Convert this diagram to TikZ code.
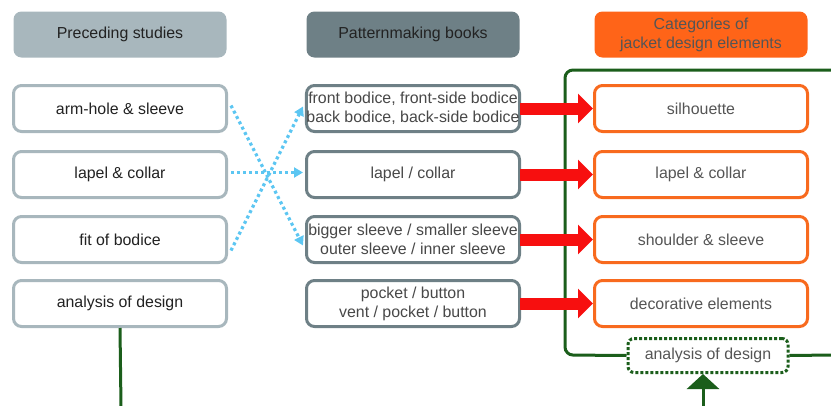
\documentclass[tikz,border=0pt]{standalone}
\usepackage{fontspec}
\setmainfont{Liberation Sans}
\usetikzlibrary{arrows.meta}
\definecolor{hdrA}{HTML}{A8B7BD}
\definecolor{hdrB}{HTML}{6E8086}
\definecolor{hdrC}{HTML}{FF6418}
\definecolor{orng}{HTML}{F86A1E}
\definecolor{dgreen}{HTML}{1B5E1B}
\definecolor{lblue}{HTML}{5CC6F2}
\definecolor{txtA}{HTML}{222222}
\definecolor{txtB}{HTML}{555555}
\definecolor{redar}{HTML}{F70F0F}
\tikzset{
  base/.style={rounded corners=8pt, minimum width=213pt, minimum height=46pt, inner sep=0pt, align=center, font=\fontsize{15.9}{19}\selectfont, line width=3pt},
  hdr/.style={base, fill=#1},
  lbox/.style={base, draw=hdrA, fill=white, text=txtA},
  mbox/.style={base, draw=hdrB, fill=white, text=txtB!85!black},
  rbox/.style={base, draw=orng, fill=white, text=txtB},
  blu/.style={lblue, line width=3.2pt, dash pattern=on 3pt off 3pt, -{Triangle[length=9pt,width=10pt]}},
  redarrow/.style={redar, line width=12pt, -{Triangle[length=15pt,width=29pt]}, shorten <=-1pt},
  grn/.style={dgreen, line width=3pt}
}
\begin{document}
\begin{tikzpicture}[x=1pt,y=-1pt]
\useasboundingbox (0,0) rectangle (831,405);
% headers
\node[hdr=hdrA, text=txtA] (h1) at (120,34.5) {Preceding studies};
\node[hdr=hdrB, text=txtA] (h2) at (413,34.5) {Patternmaking books};
\node[hdr=hdrC, text=txtB] (h3) at (701,34.5) {Categories of\\jacket design elements};
% green frame
\coordinate (fr) at (833,70);
\coordinate (fb) at (833,355);
\node[rounded corners=6pt, draw=dgreen, line width=3pt, dotted, minimum width=160pt, minimum height=34pt, inner sep=0pt, text=txtB, font=\fontsize{15.9}{19}\selectfont] (ad) at (708,355.5) {analysis of design};
\draw[grn, rounded corners=8pt] (fr) -- (565,70) -- (565,355) -- (ad.west);
\draw[grn] (ad.east) -- (fb);
% left
\node[lbox] (l1) at (120,108.5) {arm-hole \& sleeve};
\node[lbox] (l2) at (120,174.5) {lapel \& collar};
\node[lbox] (l3) at (120,239.5) {fit of bodice};
\node[lbox] (l4) at (120,303.5) {analysis of design};
% middle
\node[mbox] (m1) at (413,108.5) {front bodice, front-side bodice\\back bodice, back-side bodice};
\node[mbox] (m2) at (413,174.5) {lapel / collar};
\node[mbox] (m3) at (413,239.5) {bigger sleeve / smaller sleeve\\outer sleeve / inner sleeve};
\node[mbox] (m4) at (413,303.5) {pocket / button\\vent / pocket / button};
% right
\node[rbox] (r1) at (701,108.5) {silhouette};
\node[rbox] (r2) at (701,174.5) {lapel \& collar};
\node[rbox] (r3) at (701,239.5) {shoulder \& sleeve};
\node[rbox] (r4) at (701,303.5) {decorative elements};
% red arrows
\foreach \i in {1,2,3,4} {
  \draw[redarrow] (m\i.east) -- (r\i.west);
}
% blue dotted arrows
\draw[blu] ([xshift=3pt,yshift=3pt]l1.east) -- ([xshift=-2pt,yshift=-6pt]m3.west);
\draw[blu] ([xshift=3pt,yshift=2pt]l2.east) -- ([xshift=-2pt,yshift=2pt]m2.west);
\draw[blu] ([xshift=3pt,yshift=-11pt]l3.east) -- ([xshift=-2pt,yshift=2pt]m1.west);
% bottom green lines
\coordinate (lb) at (121,407);
\draw[grn] (l4.south) -- (lb);
\coordinate (gb) at (703,407);
\draw[grn, -{Triangle[length=15pt,width=32pt]}] (gb) -- (ad.south -| gb);
\end{tikzpicture}
\end{document}
